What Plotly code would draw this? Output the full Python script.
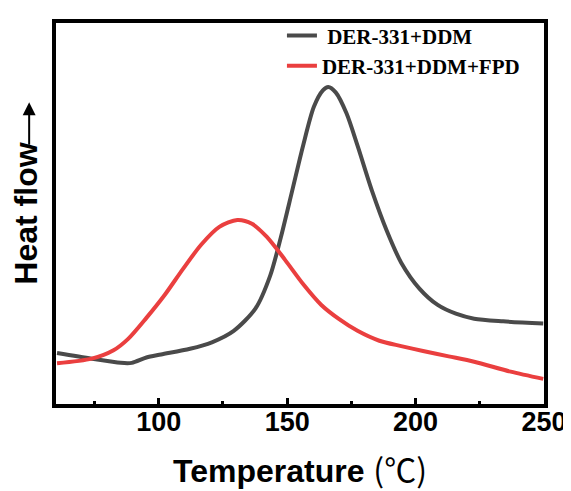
import plotly.graph_objects as go

# Data (temperature in °C, heat flow in arbitrary units)
t_ddm = [60.4, 73.9, 85.2, 89.5, 95.2, 100.9, 112.2, 120.7, 129.2, 137.7, 143.4, 147.6,
         151.9, 156.2, 160.4, 163.9, 166.0, 168.9, 173.1, 177.4, 183.1, 188.7, 194.4,
         201.5, 208.6, 215.7, 222.8, 234.1, 249.7]
hf_ddm = [13.4, 11.9, 10.8, 10.8, 12.2, 13.0, 14.5, 16.2, 19.2, 25.1, 33.7, 43.9,
          55.8, 67.8, 78.0, 82.3, 83.2, 81.8, 76.3, 67.8, 55.8, 45.6, 37.1,
          30.3, 26.0, 23.7, 22.4, 21.7, 21.1]

t_fpd = [60.4, 73.9, 82.4, 88.1, 95.2, 102.3, 109.4, 116.5, 123.6, 130.6, 136.3, 142.0,
         149.1, 156.2, 163.3, 170.4, 177.4, 185.9, 194.4, 202.9, 212.9, 222.8, 237.0, 249.7]
hf_fpd = [10.7, 11.9, 14.1, 17.1, 22.6, 28.6, 35.4, 41.8, 46.5, 48.3, 47.3, 43.9,
          37.9, 31.5, 26.0, 22.2, 19.2, 16.6, 15.2, 13.9, 12.5, 11.1, 8.5, 6.6]

names = ["\u00a0DER-331+DDM", "DER-331+DDM+FPD"]
colors = ["#4a4a4a", "#ea3f3f"]
x_ticks = [100, 150, 200, 250]

fig = go.Figure()
fig.add_trace(go.Scatter(x=t_ddm, y=hf_ddm, mode="lines", name=names[0],
                         line=dict(color=colors[0], width=4, shape="spline", smoothing=0.8)))
fig.add_trace(go.Scatter(x=t_fpd, y=hf_fpd, mode="lines", name=names[1],
                         line=dict(color=colors[1], width=4, shape="spline", smoothing=0.8)))

fig.update_layout(
    width=563, height=483,
    margin=dict(l=48, r=27, t=7, b=87),
    paper_bgcolor="white", plot_bgcolor="white",
    showlegend=True,
    legend=dict(x=0.463, y=1.02, xanchor="left", yanchor="top",
                bgcolor="rgba(0,0,0,0)", borderwidth=0,
                font=dict(family="Liberation Serif", size=21, color="black", weight="bold"),
                tracegroupgap=0, itemwidth=30),
    xaxis=dict(range=[60, 250], tickvals=x_ticks, ticktext=[str(v) for v in x_ticks],
               ticks="inside", ticklen=6, tickwidth=3, tickcolor="black",
               minor=dict(dtick=25, tick0=0, ticks="inside", ticklen=3, tickwidth=3, tickcolor="black"),
               showline=True, linewidth=4, linecolor="black", mirror=True,
               showgrid=False, zeroline=False, ticklabelstandoff=-9, automargin=False,
               tickfont=dict(family="Liberation Sans", size=27, color="black", weight="bold"),
               title=dict(text="<b>Temperature</b> <span style='font-family:\"Noto Sans CJK SC\";font-weight:normal'>(℃)</span>",
                          font=dict(family="Liberation Sans", size=32, color="black"),
                          standoff=25)),
    yaxis=dict(range=[0, 100], showticklabels=False, ticks="", automargin=False,
               showline=True, linewidth=4, linecolor="black", mirror=True,
               showgrid=False, zeroline=False),
)

# Y-axis title with upward arrow
fig.add_annotation(xref="paper", yref="paper", x=-0.062, y=0.499,
                   text="<b>Heat flow</b>", textangle=-90, showarrow=False,
                   font=dict(family="Liberation Sans", size=32, color="black"),
                   xanchor="center", yanchor="middle")
fig.add_annotation(xref="paper", yref="paper", x=-0.055, y=0.792,
                   ax=0, ay=44, axref="pixel", ayref="pixel",
                   text="", showarrow=True, arrowhead=2, arrowsize=1.3,
                   arrowwidth=2, arrowcolor="black")

fig.write_html("out.html")
